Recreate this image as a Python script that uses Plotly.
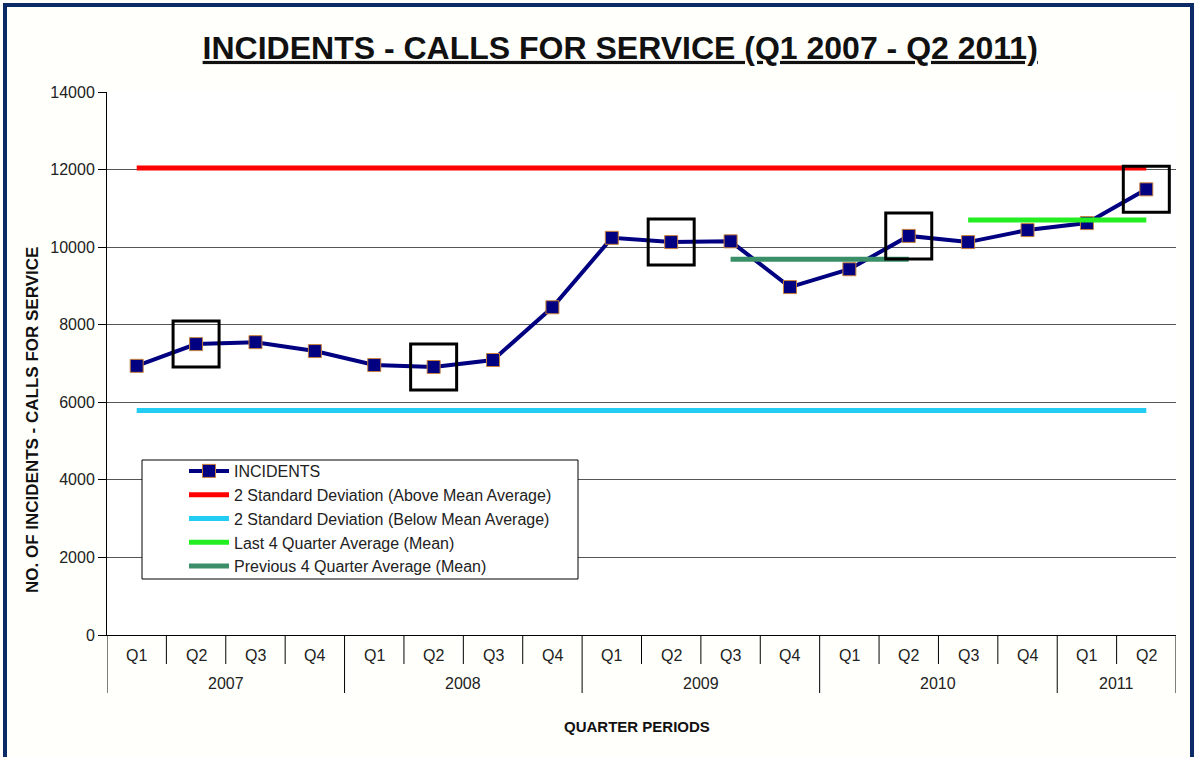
import plotly.graph_objects as go

years = ["2007", "2008", "2009", "2010", "2011"]
quarters_per_year = [4, 4, 4, 4, 2]
quarter_names = ["Q1", "Q2", "Q3", "Q4"]

incidents = [6940, 7500, 7550, 7320, 6960, 6910, 7090, 8450,
             10240, 10130, 10150, 8970, 9430, 10290, 10130, 10440, 10620, 11490]

upper_2sd = 12040
lower_2sd = 5790
last4_mean = 10700
prev4_mean = 9690

# quarters highlighted with a box (every Q2)
boxed = [1, 5, 9, 13, 17]

FONT = "Arial, Liberation Sans, sans-serif"

# category labels, one per quarter
labels, quarter_of = [], []
for yr, n in zip(years, quarters_per_year):
    for q in quarter_names[:n]:
        labels.append(f"{q} {yr}")
        quarter_of.append(q)

fig = go.Figure()

fig.add_trace(go.Scatter(
    x=labels, y=incidents, name="INCIDENTS",
    mode="lines+markers",
    line=dict(color="#000080", width=4),
    marker=dict(symbol="square", size=13, color="#000080",
                line=dict(color="#c8803c", width=1)),
))
fig.add_trace(go.Scatter(
    x=[labels[0], labels[-1]], y=[upper_2sd, upper_2sd], mode="lines",
    name="2 Standard Deviation (Above Mean Average)",
    line=dict(color="#ff0000", width=5),
))
fig.add_trace(go.Scatter(
    x=[labels[0], labels[-1]], y=[lower_2sd, lower_2sd], mode="lines",
    name="2 Standard Deviation (Below Mean Average)",
    line=dict(color="#22ccf2", width=5),
))
fig.add_trace(go.Scatter(
    x=[labels[14], labels[17]], y=[last4_mean, last4_mean], mode="lines",
    name="Last 4 Quarter Average (Mean)",
    line=dict(color="#22ee22", width=5),
))
fig.add_trace(go.Scatter(
    x=[labels[10], labels[13]], y=[prev4_mean, prev4_mean], mode="lines",
    name="Previous 4 Quarter Average (Mean)",
    line=dict(color="#3a8f68", width=5),
))
fig.add_trace(go.Scatter(
    x=[labels[i] for i in boxed], y=[incidents[i] for i in boxed],
    mode="markers", showlegend=False, hoverinfo="skip",
    marker=dict(symbol="square-open", size=46, color="#000000",
                line=dict(color="#000000", width=3)),
))

# hand-made two level category axis (quarters above years)
plot_h = 543
q_tick_y = -29 / plot_h
yr_tick_y = -58 / plot_h
annotations, shapes = [], []
for i, q in enumerate(quarter_of):
    annotations.append(dict(x=i, y=-20 / plot_h, xref="x", yref="paper", text=q,
                            showarrow=False, yanchor="middle",
                            font=dict(size=16, color="#222222")))
start = 0
for yr, n in zip(years, quarters_per_year):
    annotations.append(dict(x=start + (n - 1) / 2, y=-48 / plot_h, xref="x", yref="paper",
                            text=yr, showarrow=False, yanchor="middle",
                            font=dict(size=16, color="#222222")))
    shapes.append(dict(type="line", xref="x", yref="paper", x0=start - 0.5, x1=start - 0.5,
                       y0=0, y1=yr_tick_y, line=dict(color="#000000", width=1)))
    for k in range(1, n):
        shapes.append(dict(type="line", xref="x", yref="paper",
                           x0=start + k - 0.5, x1=start + k - 0.5,
                           y0=0, y1=q_tick_y, line=dict(color="#000000", width=1)))
    start += n
shapes.append(dict(type="line", xref="x", yref="paper", x0=start - 0.5, x1=start - 0.5,
                   y0=0, y1=yr_tick_y, line=dict(color="#000000", width=1)))

# axis titles
annotations.append(dict(x=(637 - 107) / 1069, y=-102 / plot_h, xref="paper", yref="paper",
                        text="<b>QUARTER PERIODS</b>", showarrow=False,
                        font=dict(size=15, color="#111111")))
annotations.append(dict(x=(32 - 107) / 1069, y=(635 - 420) / plot_h, xref="paper", yref="paper",
                        text="<b>NO. OF INCIDENTS - CALLS FOR SERVICE</b>", showarrow=False,
                        xanchor="center", yanchor="middle",
                        textangle=-90, font=dict(size=17, color="#111111")))

# legend box
shapes.append(dict(type="rect", xref="paper", yref="paper",
                   x0=(142 - 107) / 1069, x1=(578 - 107) / 1069,
                   y0=(635 - 579) / plot_h, y1=(635 - 460) / plot_h,
                   line=dict(color="#000000", width=1), fillcolor="#ffffff", layer="above"))
# outer frame
shapes.append(dict(type="rect", xref="paper", yref="paper",
                   x0=(5 - 107) / 1069, x1=(1192 - 107) / 1069,
                   y0=(635 - 760) / plot_h, y1=(635 - 5) / plot_h,
                   line=dict(color="#0b2a66", width=4), fillcolor="rgba(0,0,0,0)",
                   layer="below"))

fig.update_layout(
    width=1195, height=757,
    margin=dict(l=107, r=19, t=92, b=122),
    paper_bgcolor="#fffffb", plot_bgcolor="#ffffff",
    font=dict(family=FONT, size=16, color="#222222"),
    title=dict(
        text="<b><u>INCIDENTS - CALLS FOR SERVICE (Q1 2007 - Q2 2011)</u></b>",
        x=0.519, xanchor="center", y=0.937, yanchor="middle",
        font=dict(size=32, color="#111111"),
    ),
    showlegend=True,
    legend=dict(
        x=(184 - 107) / 1069, y=(635 - 454) / plot_h, xanchor="left", yanchor="top",
        bgcolor="rgba(0,0,0,0)", borderwidth=0,
        font=dict(size=16, color="#222222"),
        itemwidth=40, tracegroupgap=0,
    ),
    xaxis=dict(
        type="category", range=[-0.5, len(labels) - 0.5],
        showticklabels=False, ticks="", showgrid=False,
        showline=True, linecolor="#000000", linewidth=1,
    ),
    yaxis=dict(
        range=[0, 14000], dtick=2000, tickformat="d",
        showgrid=True, gridcolor="#555555", gridwidth=1,
        showline=True, linecolor="#000000", linewidth=1,
        ticks="outside", ticklen=8, tickcolor="#000000",
        tickfont=dict(size=16, color="#222222"),
        zeroline=False, automargin=False,
    ),
    annotations=annotations,
    shapes=shapes,
)

# drop the browser's default page margin so the figure sits at the window edge
fig.write_html("out.html", config={"displayModeBar": False},
               post_script="document.body.style.margin = '0';")
